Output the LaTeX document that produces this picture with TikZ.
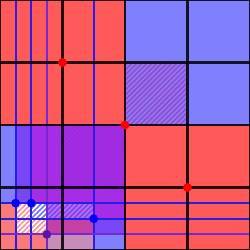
\documentclass[tikz,border=0pt]{standalone}
\usetikzlibrary{patterns.meta}
\definecolor{cellred}{RGB}{255,90,90}
\definecolor{cellredlight}{RGB}{248,122,122}
\definecolor{cellblue}{RGB}{128,128,255}
\definecolor{cellpurple}{RGB}{165,45,230}
\definecolor{cellviolet}{RGB}{120,70,245}
\definecolor{cellpink}{RGB}{195,65,165}
\definecolor{cellmauve}{RGB}{200,140,185}
\definecolor{linkblue}{RGB}{40,30,230}
\definecolor{linkpurple}{RGB}{120,40,210}
\definecolor{stripepurple}{RGB}{160,70,200}
\definecolor{dotpurple}{RGB}{90,20,170}

\begin{document}
\begin{tikzpicture}[x=5mm, y=5mm,
    gridline/.style={line width=2pt, draw=black, draw opacity=0.85},
    blueline/.style={line width=1.7pt, draw=linkblue},
    purpleline/.style={line width=1.7pt, draw=linkpurple},
    hatch/.style={pattern={Lines[angle=45, distance=3.2pt, line width=1.5pt]}, pattern color=#1},
    dot/.style={circle, fill=#1, inner sep=0pt, minimum size=8pt}]
  \useasboundingbox (0,0) rectangle (16,16);
  % quadrants
  \fill[cellred] (0,8) rectangle (8,16);
  \fill[cellblue] (8,8) rectangle (16,16);
  \fill[cellred] (8,0) rectangle (16,8);
  \fill[hatch=stripepurple] (8,8) rectangle (12,12);
  % lower left quadrant
  \fill[cellblue] (0,3) rectangle (1,8);
  \fill[cellviolet] (1,3) rectangle (2,8);
  \fill[cellpurple] (2,3) rectangle (8,8);
  \fill[hatch=cellpurple!96!black] (4,4) rectangle (8,8);
  \fill[cellredlight] (0,2) rectangle (1,3);
  \fill[hatch=cellredlight!80] (1,2) rectangle (2,3);
  \fill[hatch=cellblue!85!blue] (2,2) rectangle (3,3);
  \fill[cellviolet] (3,2) rectangle (6,3);
  \fill[hatch=cellpurple!70!white] (3,2) rectangle (6,3);
  \fill[cellpurple] (6,2) rectangle (8,3);
  \fill[cellredlight] (0,1) rectangle (1,2);
  \fill[hatch=cellredlight!80] (1,1) rectangle (3,2);
  \fill[cellpink] (3,1) rectangle (6,2);
  \fill[cellviolet] (6,1) rectangle (8,2);
  \fill[cellredlight] (0,0) rectangle (3,1);
  \fill[cellmauve] (3,0) rectangle (6,1);
  \fill[cellblue] (6,0) rectangle (8,1);
  % lines through the points
  \foreach \x in {1,2,6}
    \draw[blueline] (\x,0) -- (\x,16);
  \draw[purpleline] (3,0) -- (3,16);
  \foreach \y in {2,3}
    \draw[blueline] (0,\y) -- (16,\y);
  \draw[purpleline] (0,1) -- (16,1);
  % grid
  \foreach \t in {4,8,12} {
    \draw[gridline] (\t,0) -- (\t,16);
    \draw[gridline] (0,\t) -- (16,\t);
  }
  \draw[gridline] (0,0) rectangle (16,16);
  % points
  \node[dot=red] (r1) at (4,12) {};
  \node[dot=red] (r2) at (8,8) {};
  \node[dot=red] (r3) at (12,4) {};
  \node[dot=blue] (b1) at (1,3) {};
  \node[dot=blue] (b2) at (2,3) {};
  \node[dot=blue] (b3) at (6,2) {};
  \node[dot=dotpurple] (p1) at (3,1) {};
\end{tikzpicture}
\end{document}
